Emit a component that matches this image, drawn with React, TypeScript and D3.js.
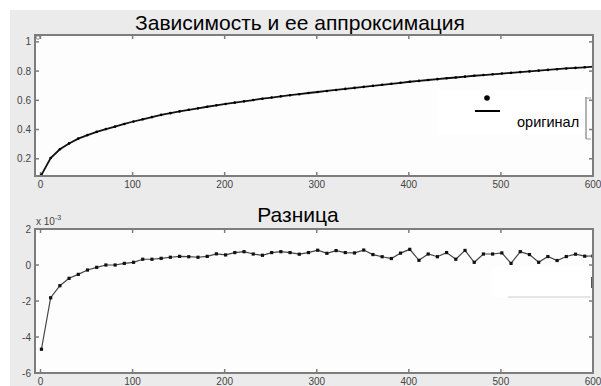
import React from "react";
import * as d3 from "d3";

// x positions of samples
const xs = [1, 11, 21, 31, 41, 51, 61, 71, 81, 91, 101, 111, 121, 131, 141, 151, 161, 171, 181, 191,
  201, 211, 221, 231, 241, 251, 261, 271, 281, 291, 301, 311, 321, 331, 341, 351, 361, 371, 381, 391,
  401, 411, 421, 431, 441, 451, 461, 471, 481, 491, 501, 511, 521, 531, 541, 551, 561, 571, 581, 591, 600];

// original dependence
const original = [0.09, 0.205, 0.265, 0.305, 0.338, 0.362, 0.384, 0.403, 0.42, 0.438, 0.455, 0.47, 0.485, 0.5,
  0.512, 0.524, 0.535, 0.545, 0.556, 0.566, 0.575, 0.584, 0.593, 0.602, 0.611, 0.619, 0.627, 0.635, 0.642,
  0.65, 0.657, 0.664, 0.671, 0.678, 0.685, 0.692, 0.699, 0.706, 0.713, 0.72, 0.727, 0.733, 0.739, 0.745, 0.751,
  0.756, 0.762, 0.768, 0.773, 0.778, 0.783, 0.788, 0.793, 0.798, 0.803, 0.808, 0.813, 0.818, 0.822, 0.826, 0.83];

// difference (x 1e-3)
const diff = [-4.68, -1.82, -1.15, -0.74, -0.52, -0.28, -0.13, 0.0, 0.0, 0.09, 0.15, 0.32, 0.32, 0.37, 0.43,
  0.48, 0.46, 0.43, 0.48, 0.62, 0.56, 0.69, 0.74, 0.61, 0.54, 0.69, 0.74, 0.69, 0.6, 0.69, 0.82, 0.65, 0.8,
  0.69, 0.67, 0.83, 0.58, 0.46, 0.36, 0.66, 0.87, 0.26, 0.61, 0.46, 0.69, 0.32, 0.81, 0.15, 0.61, 0.61, 0.67,
  0.09, 0.74, 0.58, 0.15, 0.47, 0.25, 0.47, 0.6, 0.49, 0.5];

const xTicks = [0, 100, 200, 300, 400, 500, 600];
const topYTicks = [0.2, 0.4, 0.6, 0.8, 1];
const topYLabels = ["0.2", "0.4", "0.6", "0.8", "1"];
const botYTicks = [-6, -4, -2, 0, 2];
const botYLabels = ["-6", "-4", "-2", "0", "2"];

const title1 = "Зависимость и ее аппроксимация";
const title2 = "Разница";
const legendLabel = "оригинал";

const FONT = "Liberation Sans, Arial, sans-serif";
const FRAME = "#7d7d7d";

function Axes({ x, y, yTicks, yLabels, left, right, top, bottom }: any) {
  const tl = 4;
  return (
    <g>
      <rect x={left} y={top} width={right - left} height={bottom - top} fill="#fdfdfd" stroke="none" />
      {xTicks.map((t) => (
        <g key={"x" + t}>
          <line x1={x(t)} x2={x(t)} y1={bottom} y2={bottom - tl} stroke={FRAME} strokeWidth={1.5} />
          <line x1={x(t)} x2={x(t)} y1={top} y2={top + tl} stroke={FRAME} strokeWidth={1.5} />
          <text x={x(t)} y={bottom + 12} fontSize={10} textAnchor="middle" fill="#444" fontFamily={FONT}>
            {t}
          </text>
        </g>
      ))}
      {yTicks.map((t: number, i: number) => (
        <g key={"y" + t}>
          <line x1={left} x2={left + tl} y1={y(t)} y2={y(t)} stroke={FRAME} strokeWidth={1.5} />
          <line x1={right} x2={right - tl} y1={y(t)} y2={y(t)} stroke={FRAME} strokeWidth={1.5} />
          <text x={31} y={y(t) + 3.5} fontSize={10} textAnchor="end" fill="#444" fontFamily={FONT}>
            {yLabels[i]}
          </text>
        </g>
      ))}
    </g>
  );
}

export default function App() {
  const W = 601, H = 386;
  const left = 35, right = 593;
  const x = d3.scaleLinear().domain([-6, 600]).range([left, right]);
  const yTop = d3.scaleLinear().domain([0.082, 1.047]).range([176, 35]);
  const yBot = d3.scaleLinear().domain([-6, 2]).range([373, 229]);

  const topPts = xs.map((v, i) => [v, original[i]] as [number, number]);
  const botPts = xs.map((v, i) => [v, diff[i]] as [number, number]);

  const lineTop = d3.line<[number, number]>().x((d) => x(d[0])).y((d) => yTop(d[1]));
  const lineBot = d3.line<[number, number]>().x((d) => x(d[0])).y((d) => yBot(d[1]));

  return (
    <svg width={W} height={H} style={{ position: "absolute", left: 0, top: 0 }}>
      <defs>
        <clipPath id="clipTop"><rect x={left} y={35} width={right - left} height={141} /></clipPath>
        <clipPath id="clipBot"><rect x={left} y={229} width={right - left} height={144} /></clipPath>
      </defs>
      <rect x={0} y={0} width={W} height={H} fill="#ffffff" />
      <rect x={10} y={10} width={W - 10} height={H - 10} fill="#ebebeb" />

      {/* Top plot */}
      <text x={300} y={30} fontSize={21} textAnchor="middle" fontFamily={FONT} fill="#000">{title1}</text>
      <Axes x={x} y={yTop} yTicks={topYTicks} yLabels={topYLabels} left={left} right={right} top={35} bottom={176} />
      <g clipPath="url(#clipTop)">
        <path d={lineTop(topPts) || ""} fill="none" stroke="#111" strokeWidth={1.8} />
        {topPts.map((d, i) => (
          <circle key={i} cx={x(d[0])} cy={yTop(d[1])} r={1.3} fill="#000" />
        ))}
      </g>
      <circle cx={38} cy={37.5} r={1.8} fill="none" stroke="#888" strokeWidth={1} />
      {/* legend */}
      <rect x={438} y={90} width={148} height={45} fill="#ffffff" />
      <circle cx={487} cy={98} r={2.8} fill="#000" />
      <line x1={475} x2={500} y1={111} y2={111} stroke="#000" strokeWidth={2} />
      <text x={517} y={127} fontSize={14.5} fontFamily={FONT} fill="#000">{legendLabel}</text>
      <line x1={586} x2={586} y1={97} y2={139} stroke="#999" strokeWidth={1.5} />
      <line x1={586} x2={591} y1={98} y2={98} stroke="#999" strokeWidth={1} />
      <line x1={586} x2={591} y1={139} y2={139} stroke="#999" strokeWidth={1} />
      <rect x={left} y={35} width={right - left} height={141} fill="none" stroke={FRAME} strokeWidth={2} />

      {/* Bottom plot */}
      <text x={298} y={222} fontSize={21} textAnchor="middle" fontFamily={FONT} fill="#000">{title2}</text>
      <text x={36} y={225} fontSize={10} fontFamily={FONT} fill="#444">
        x 10<tspan dy={-5} fontSize={7}>-3</tspan>
      </text>
      <Axes x={x} y={yBot} yTicks={botYTicks} yLabels={botYLabels} left={left} right={right} top={229} bottom={373} />
      <g clipPath="url(#clipBot)">
        <path d={lineBot(botPts) || ""} fill="none" stroke="#444" strokeWidth={1.2} />
        {botPts.map((d, i) => (
          <rect key={i} x={x(d[0]) - 1.6} y={yBot(d[1]) - 1.6} width={3.2} height={3.2} fill="#111" />
        ))}
      </g>
      <rect x={492} y={267} width={98} height={30} fill="#ffffff" />
      <line x1={508} x2={590} y1={297} y2={297} stroke="#ccc" strokeWidth={1} />
      <rect x={591} y={277} width={2} height={11} fill="#555" />
      <rect x={left} y={229} width={right - left} height={144} fill="none" stroke={FRAME} strokeWidth={2} />
    </svg>
  );
}
